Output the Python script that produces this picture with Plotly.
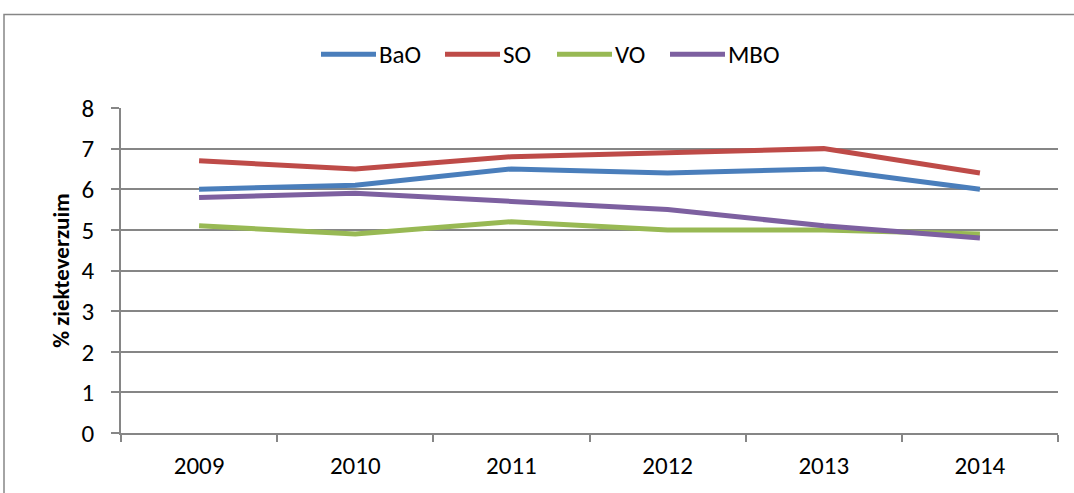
import plotly.graph_objects as go

years = ["2009", "2010", "2011", "2012", "2013", "2014"]
bao = [6.0, 6.1, 6.5, 6.4, 6.5, 6.0]
so = [6.7, 6.5, 6.8, 6.9, 7.0, 6.4]
vo = [5.1, 4.9, 5.2, 5.0, 5.0, 4.9]
mbo = [5.8, 5.9, 5.7, 5.5, 5.1, 4.8]
names = ["BaO", "SO", "VO", "MBO"]
colors = ["#4a7ebb", "#be4b48", "#98b954", "#7d60a0"]
values = [bao, so, vo, mbo]

FONT = "Carlito, Calibri, Lato, sans-serif"
W, H = 1074, 493
L, R, T, B = 121, 16, 108, 58
pw, ph = W - L - R, H - T - B


def px_x(x):
    return (x - L) / pw


def px_y(y):
    return (H - B - y) / ph


fig = go.Figure()
for name, vals, col in zip(names, values, colors):
    fig.add_trace(go.Scatter(x=years, y=vals, name=name, mode="lines",
                             line=dict(color=col, width=5), showlegend=False))

# manual legend (positions in pixels)
leg_line_x = [321, 445, 557, 670]
leg_y = 54
shapes = []
annotations = []
for i, (name, col) in enumerate(zip(names, colors)):
    x0 = leg_line_x[i]
    shapes.append(dict(type="line", xref="paper", yref="paper",
                       x0=px_x(x0), x1=px_x(x0 + 55), y0=px_y(leg_y), y1=px_y(leg_y),
                       line=dict(color=col, width=5)))
    annotations.append(dict(xref="paper", yref="paper", x=px_x(x0 + 56), y=px_y(leg_y),
                            xanchor="left", yanchor="middle", text=name, showarrow=False,
                            font=dict(family=FONT, size=25, color="black")))

shapes.append(dict(type="rect", xref="paper", yref="paper",
                   x0=px_x(4), x1=1.2, y0=-0.5, y1=px_y(14),
                   line=dict(color="#868686", width=1.5), fillcolor="rgba(0,0,0,0)", layer="above"))

fig.update_layout(
    width=W, height=H,
    margin=dict(l=L, r=R, t=T, b=B),
    plot_bgcolor="white", paper_bgcolor="white",
    font=dict(family=FONT, size=25, color="black"),
    showlegend=False,
    xaxis=dict(type="category", showgrid=False, showline=True, linecolor="#868686", linewidth=1.5,
               ticks="outside", tickson="boundaries", ticklen=7, tickcolor="#868686", tickwidth=1.5,
               range=[-0.5, 5.5], ticklabelstandoff=9),
    yaxis=dict(range=[0, 8], dtick=1, showgrid=True, gridcolor="#868686", gridwidth=1.5,
               showline=True, linecolor="#868686", linewidth=1.5, ticks="outside", ticklen=8,
               tickcolor="#868686", tickwidth=1.5, zeroline=False, ticklabelstandoff=12,
               title=dict(text="<b>% ziekteverzuim</b>", font=dict(size=23), standoff=6)),
    shapes=shapes,
    annotations=annotations,
)

fig.write_html("out.html", config={"displayModeBar": False},
               post_script="document.body.style.margin='0';")
